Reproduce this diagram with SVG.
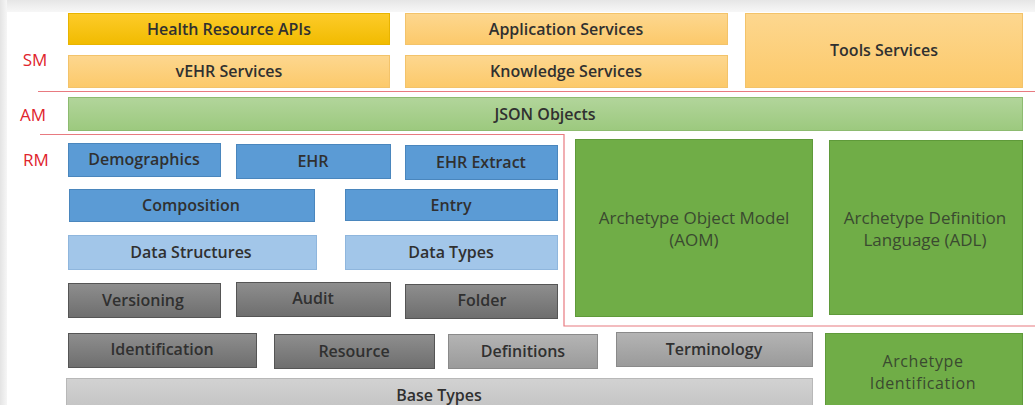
<svg xmlns="http://www.w3.org/2000/svg" width="1035" height="405" viewBox="0 0 1035 405">
<defs>
<linearGradient id="gTop" x1="0" y1="0" x2="0" y2="1"><stop offset="0" stop-color="#e6e6e6"/><stop offset="1" stop-color="#f7f7f7"/></linearGradient>
<linearGradient id="gLeft" x1="0" y1="0" x2="1" y2="0"><stop offset="0" stop-color="#e4e4e4"/><stop offset="1" stop-color="#f6f6f6"/></linearGradient>
<linearGradient id="gGold" x1="0" y1="0" x2="0" y2="1"><stop offset="0" stop-color="#fdcb2a"/><stop offset="1" stop-color="#f1bb00"/></linearGradient>
<linearGradient id="gOrange" x1="0" y1="0" x2="0" y2="1"><stop offset="0" stop-color="#fdd78f"/><stop offset="1" stop-color="#fcc96a"/></linearGradient>
<linearGradient id="gLGreen" x1="0" y1="0" x2="0" y2="1"><stop offset="0" stop-color="#b2d59b"/><stop offset="1" stop-color="#9cc97e"/></linearGradient>
<linearGradient id="gDark" x1="0" y1="0" x2="0" y2="1"><stop offset="0" stop-color="#8e8e8e"/><stop offset="1" stop-color="#6e6e6e"/></linearGradient>
<linearGradient id="gMid" x1="0" y1="0" x2="0" y2="1"><stop offset="0" stop-color="#b4b4b4"/><stop offset="1" stop-color="#9a9a9a"/></linearGradient>
<linearGradient id="gLight" x1="0" y1="0" x2="0" y2="1"><stop offset="0" stop-color="#d2d2d2"/><stop offset="1" stop-color="#c4c4c4"/></linearGradient>
</defs>
<style>
text{font-family:"Open Sans","Liberation Sans",sans-serif;font-size:16px;fill:#303030;text-anchor:middle;dominant-baseline:central;font-weight:600}
.lbl{fill:#e0242c;font-size:17px;font-weight:400}
.gold{fill:url(#gGold);stroke:#e8b400;stroke-width:1}
.orange{fill:url(#gOrange);stroke:#f3c36a;stroke-width:1}
.lgreen{fill:url(#gLGreen);stroke:#8dbb70;stroke-width:1}
.blue{fill:#5b9bd5;stroke:#4a86bd;stroke-width:1}
.lblue{fill:#a2c6e9;stroke:#8fb6dd;stroke-width:1}
.dark{fill:url(#gDark);stroke:#555;stroke-width:1}
.mid{fill:url(#gMid);stroke:#8a8a8a;stroke-width:1}
.light{fill:url(#gLight);stroke:#b8b8b8;stroke-width:1}
.green{fill:#70ad47;stroke:#5f9a3a;stroke-width:1}
.ga{fill:#3a4a30;font-weight:400;font-size:17px}
.gs{fill:#3a4a30;font-weight:400;font-size:16px;letter-spacing:0.6px}
.sep{fill:none;stroke:#e87a80;stroke-width:1.2}
</style>
<rect x="0" y="0" width="1035" height="405" fill="#ffffff"/>
<rect x="0" y="0" width="1035" height="12" fill="url(#gTop)"/>
<rect x="0" y="0" width="7" height="405" fill="url(#gLeft)"/>

<g id="connectors">
<path class="sep" d="M38 91.5 H1035"/>
<path class="sep" d="M40 134.5 H564 V326 H1035"/>
</g>

<g id="layer-labels">
<text class="lbl" x="35" y="59">SM</text>
<text class="lbl" x="33" y="114">AM</text>
<text class="lbl" x="36" y="159">RM</text>
</g>

<g id="health-resource-apis"><rect class="gold" x="68.5" y="13.5" width="321" height="31"/><text x="229" y="29">Health Resource APIs</text></g>
<g id="vehr-services"><rect class="orange" x="68.5" y="55.5" width="321" height="32"/><text x="229" y="71">vEHR Services</text></g>
<g id="application-services"><rect class="orange" x="405.5" y="13.5" width="322" height="31"/><text x="566" y="29">Application Services</text></g>
<g id="knowledge-services"><rect class="orange" x="405.5" y="55.5" width="322" height="32"/><text x="566" y="71">Knowledge Services</text></g>
<g id="tools-services"><rect class="orange" x="745.5" y="13.5" width="277" height="74"/><text x="884" y="50">Tools Services</text></g>

<g id="json-objects"><rect class="lgreen" x="68.5" y="97.5" width="954" height="33"/><text x="545" y="114">JSON Objects</text></g>

<g id="demographics"><rect class="blue" x="68.5" y="143.5" width="152" height="33"/><text x="144" y="159">Demographics</text></g>
<g id="ehr"><rect class="blue" x="236.5" y="144.5" width="154" height="34"/><text x="313" y="161">EHR</text></g>
<g id="ehr-extract"><rect class="blue" x="405.5" y="145.5" width="152" height="34"/><text x="481" y="162">EHR Extract</text></g>
<g id="composition"><rect class="blue" x="69.5" y="189.5" width="245" height="32"/><text x="191" y="205">Composition</text></g>
<g id="entry"><rect class="blue" x="345.5" y="189.5" width="212" height="31"/><text x="451" y="205">Entry</text></g>
<g id="data-structures"><rect class="lblue" x="68.5" y="235.5" width="248" height="34"/><text x="191" y="252">Data Structures</text></g>
<g id="data-types"><rect class="lblue" x="345.5" y="235.5" width="212" height="34"/><text x="451" y="252">Data Types</text></g>
<g id="versioning"><rect class="dark" x="68.5" y="283.5" width="152" height="34"/><text x="143" y="300">Versioning</text></g>
<g id="audit"><rect class="dark" x="236.5" y="282.5" width="154" height="34"/><text x="313" y="298">Audit</text></g>
<g id="folder"><rect class="dark" x="405.5" y="284.5" width="152" height="34"/><text x="482" y="300">Folder</text></g>

<g id="aom"><rect class="green" x="575.5" y="139.5" width="237" height="177"/><text class="ga" x="694" y="217">Archetype Object Model</text><text class="ga" x="694" y="239">(AOM)</text></g>
<g id="adl"><rect class="green" x="829.5" y="140.5" width="193" height="174"/><text class="ga" x="925" y="217">Archetype Definition</text><text class="ga" x="925" y="239">Language (ADL)</text></g>

<g id="identification"><rect class="dark" x="68.5" y="333.5" width="188" height="34"/><text x="162" y="349">Identification</text></g>
<g id="resource"><rect class="dark" x="274.5" y="334.5" width="160" height="34"/><text x="354" y="351">Resource</text></g>
<g id="definitions"><rect class="mid" x="448.5" y="334.5" width="149" height="34"/><text x="523" y="351">Definitions</text></g>
<g id="terminology"><rect class="mid" x="616.5" y="332.5" width="196" height="34"/><text x="714" y="349">Terminology</text></g>
<g id="archetype-identification"><rect class="green" x="825.5" y="333.5" width="197" height="75"/><text class="gs" x="923" y="361">Archetype</text><text class="gs" x="923" y="383">Identification</text></g>
<g id="base-types"><rect class="light" x="66.5" y="378.5" width="746" height="30"/><text x="439" y="395">Base Types</text></g>
</svg>
